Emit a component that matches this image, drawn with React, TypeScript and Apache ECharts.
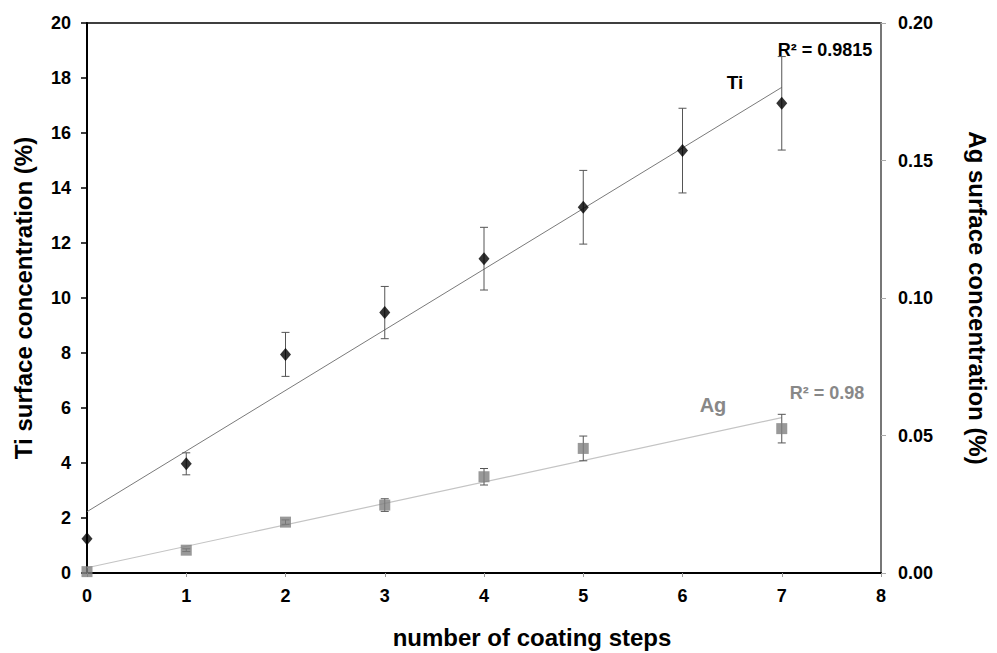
import React, { useEffect, useRef } from "react";
import * as echarts from "echarts";

const steps = [0, 1, 2, 3, 4, 5, 6, 7];
const tiValues = [1.25, 3.97, 7.95, 9.47, 11.43, 13.3, 15.36, 17.08];
const tiErrors = [0, 0.4, 0.8, 0.95, 1.14, 1.34, 1.54, 1.7];

const agSteps = [0, 1, 2, 3, 4, 5, 7];
const agValues = [0.0005, 0.0083, 0.0185, 0.0247, 0.035, 0.0453, 0.0525];
const agErrors = [0, 0.0005, 0.0008, 0.0023, 0.003, 0.0045, 0.0052];

const tiTrendX = [0, 7];
const tiTrendY = [2.23, 17.66];
const agTrendX = [0, 7];
const agTrendY = [0.0019, 0.0565];

const leftTicks = [0, 2, 4, 6, 8, 10, 12, 14, 16, 18, 20];
const rightTicks = [0, 0.05, 0.1, 0.15, 0.2];

const FONT = "'Liberation Sans', Arial, sans-serif";

function errorBarRender(color: string) {
  return (params: any, api: any) => {
    const x = api.value(0);
    const y = api.value(1);
    const e = api.value(2);
    if (!e) return null;
    const top = api.coord([x, y + e]);
    const bot = api.coord([x, y - e]);
    const hw = 4;
    const style = { stroke: color, lineWidth: 1 };
    return {
      type: "group",
      children: [
        { type: "line", shape: { x1: top[0], y1: top[1], x2: bot[0], y2: bot[1] }, style },
        { type: "line", shape: { x1: top[0] - hw, y1: top[1], x2: top[0] + hw, y2: top[1] }, style },
        { type: "line", shape: { x1: bot[0] - hw, y1: bot[1], x2: bot[0] + hw, y2: bot[1] }, style },
      ],
    };
  };
}

export default function App() {
  const ref = useRef<HTMLDivElement>(null);
  useEffect(() => {
    document.body.style.margin = "0";
    const chart = echarts.init(ref.current!, null, { renderer: "svg" });
    const labelStyle = { fontFamily: FONT, fontWeight: "bold" as const, fontSize: 18, color: "#000" };
    const titleStyle = { fontFamily: FONT, fontWeight: "bold" as const, fontSize: 24, color: "#000" };
    chart.setOption({
      animation: false,
      backgroundColor: "#fff",
      grid: {
        left: 87,
        right: 109,
        top: 23,
        bottom: 80,
        show: true,
        borderColor: "#000",
        borderWidth: 1.5,
        backgroundColor: "transparent",
      },
      xAxis: {
        type: "value",
        min: 0,
        max: 8,
        interval: 1,
        axisLine: { show: true, lineStyle: { color: "#000", width: 2 } },
        axisTick: { show: true, inside: false, length: 4, lineStyle: { color: "#999" } },
        axisLabel: { ...labelStyle, margin: 14 },
        splitLine: { show: false },
      },
      yAxis: [
        {
          type: "value",
          min: 0,
          max: 20,
          interval: 2,
          name: "Ti surface concentration (%)",
          nameLocation: "middle",
          nameRotate: 90,
          nameGap: 52,
          nameTextStyle: titleStyle,
          axisLine: { show: true, lineStyle: { color: "#000", width: 2 } },
          axisTick: { show: true, inside: false, length: 6, lineStyle: { color: "#000", width: 1.5 } },
          axisLabel: { ...labelStyle, margin: 16, formatter: (v: number) => (leftTicks.includes(v) ? String(v) : "") },
          splitLine: { show: false },
        },
        {
          type: "value",
          position: "right",
          min: 0,
          max: 0.2,
          interval: 0.05,
          name: "Ag surface concentration (%)",
          nameLocation: "middle",
          nameRotate: -90,
          nameGap: 84,
          nameTextStyle: titleStyle,
          axisLine: { show: true, lineStyle: { color: "#777", width: 2 } },
          axisTick: { show: true, inside: false, length: 5, lineStyle: { color: "#aaa" } },
          axisLabel: {
            ...labelStyle,
            margin: 17,
            formatter: (v: number) => {
              const m = rightTicks.find((t) => Math.abs(t - v) < 1e-9);
              return m === undefined ? "" : m.toFixed(2);
            },
          },
          splitLine: { show: false },
        },
      ],
      series: [
        {
          type: "line",
          data: tiTrendX.map((x, i) => [x, tiTrendY[i]]),
          yAxisIndex: 0,
          symbol: "none",
          lineStyle: { color: "#7a7a7a", width: 1 },
          z: 1,
        },
        {
          type: "line",
          data: agTrendX.map((x, i) => [x, agTrendY[i]]),
          yAxisIndex: 1,
          symbol: "none",
          lineStyle: { color: "#c4c4c4", width: 1.2 },
          z: 1,
        },
        {
          type: "custom",
          yAxisIndex: 0,
          data: steps.map((x, i) => [x, tiValues[i], tiErrors[i]]),
          renderItem: errorBarRender("#555"),
          z: 2,
        },
        {
          type: "custom",
          yAxisIndex: 1,
          data: agSteps.map((x, i) => [x, agValues[i], agErrors[i]]),
          renderItem: errorBarRender("#555"),
          z: 2,
        },
        {
          type: "scatter",
          yAxisIndex: 0,
          data: steps.map((x, i) => [x, tiValues[i]]),
          symbol: "diamond",
          symbolSize: [11, 13],
          itemStyle: { color: "#000" },
          z: 3,
        },
        {
          type: "scatter",
          yAxisIndex: 1,
          data: agSteps.map((x, i) => [x, agValues[i]]),
          symbol: "rect",
          symbolSize: 11,
          itemStyle: { color: "#808080" },
          z: 3,
        },
      ],
      graphic: [
        {
          type: "text",
          x: 532,
          y: 637,
          style: { text: "number of coating steps", fontFamily: FONT, fontWeight: "bold", fontSize: 24, fill: "#000", textAlign: "center", textVerticalAlign: "middle" },
        },
        {
          type: "text",
          x: 825,
          y: 50,
          style: { text: "R² = 0.9815", fontFamily: FONT, fontWeight: "bold", fontSize: 18, fill: "#000", textAlign: "center", textVerticalAlign: "middle" },
        },
        {
          type: "text",
          x: 735,
          y: 82,
          style: { text: "Ti", fontFamily: FONT, fontWeight: "bold", fontSize: 19, fill: "#000", textAlign: "center", textVerticalAlign: "middle" },
        },
        {
          type: "text",
          x: 827,
          y: 393,
          style: { text: "R² = 0.98", fontFamily: FONT, fontWeight: "bold", fontSize: 18, fill: "#888", textAlign: "center", textVerticalAlign: "middle" },
        },
        {
          type: "text",
          x: 713,
          y: 405,
          style: { text: "Ag", fontFamily: FONT, fontWeight: "bold", fontSize: 20, fill: "#888", textAlign: "center", textVerticalAlign: "middle" },
        },
      ],
    });
    return () => chart.dispose();
  }, []);
  return <div ref={ref} style={{ width: 997, height: 653 }} />;
}
